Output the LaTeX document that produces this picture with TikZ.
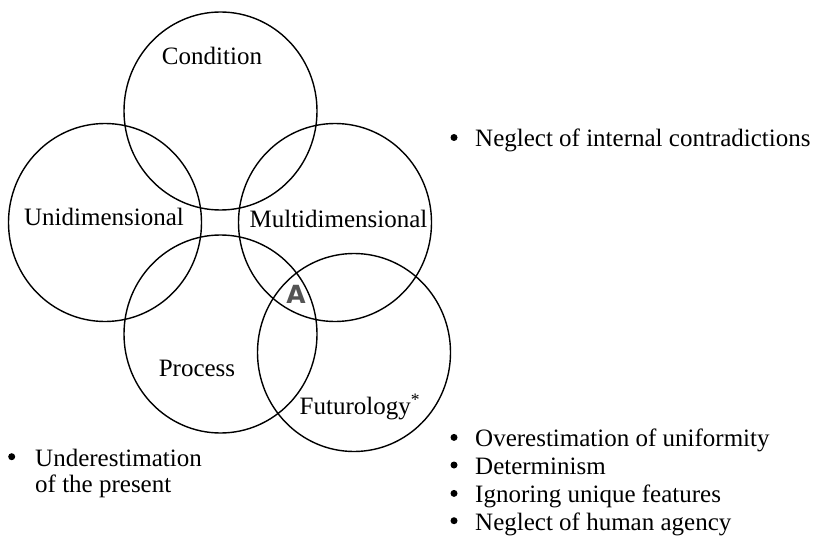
\documentclass[tikz,border=0pt]{standalone}
\usepackage{fontspec}
\setmainfont{Liberation Serif}
\newfontfamily\heavysans{DejaVu Sans}
\usetikzlibrary{shapes.geometric}
\begin{document}
\begin{tikzpicture}[x=1pt,y=-1pt,
  ring/.style={draw=black,line width=1.4pt,ellipse,inner sep=0pt,
    minimum width=193pt,minimum height=198pt},
  lbl/.style={inner sep=0pt,anchor=base,font=\fontsize{25}{27}\selectfont},
  item/.style={inner sep=0pt,anchor=base west,font=\fontsize{25}{27}\selectfont},
  blt/.style={circle,fill=black,inner sep=0pt,minimum size=7pt},
  overlaplabel/.style={inner sep=0pt,anchor=base,text=black!67,
    font=\heavysans\bfseries\fontsize{25}{27}\selectfont}]
\useasboundingbox (0,0) rectangle (818,540);

% the five overlapping circles
\node[ring] (cond)  at (220.5,111) {};
\node[ring] (uni)   at (105,222.5) {};
\node[ring] (multi) at (335,222.5) {};
\node[ring] (proc)  at (220.5,334) {};
\node[ring] (fut)   at (354,352.5) {};

% circle labels
\node[lbl] (tcond)  at (212,65)    {Condition};
\node[lbl] (tuni)   at (104,225.7) {Unidimensional};
\node[lbl] (tmulti) at (338.5,227.7) {Multidimensional};
\node[lbl] (tproc)  at (197,376.7) {Process};
\node[item] (tfut)  at (299.5,414.3) {Futurology\textsuperscript{*}};

% overlap marker
\node[overlaplabel] (a) at (296,303.5) {A};

% bullet lists
\node[item] (l1) at (475,146.7) {Neglect of internal contradictions};
\node[blt] (b1) at (454,137.5) {};
\node[item] (l2) at (35,466) {Underestimation};
\node[blt] (b2) at (11.7,456.7) {};
\node[item] (l3) at (35,492.7) {of the present};
\node[item] (r1) at (475,446.7) {Overestimation of uniformity};
\node[blt] (b3) at (454,437.4) {};
\node[item] (r2) at (475,474.3) {Determinism};
\node[blt] (b4) at (454,465) {};
\node[item] (r3) at (475,502.7) {Ignoring unique features};
\node[blt] (b5) at (454,493.4) {};
\node[item] (r4) at (475,530) {Neglect of human agency};
\node[blt] (b6) at (454,520.7) {};
\end{tikzpicture}
\end{document}
